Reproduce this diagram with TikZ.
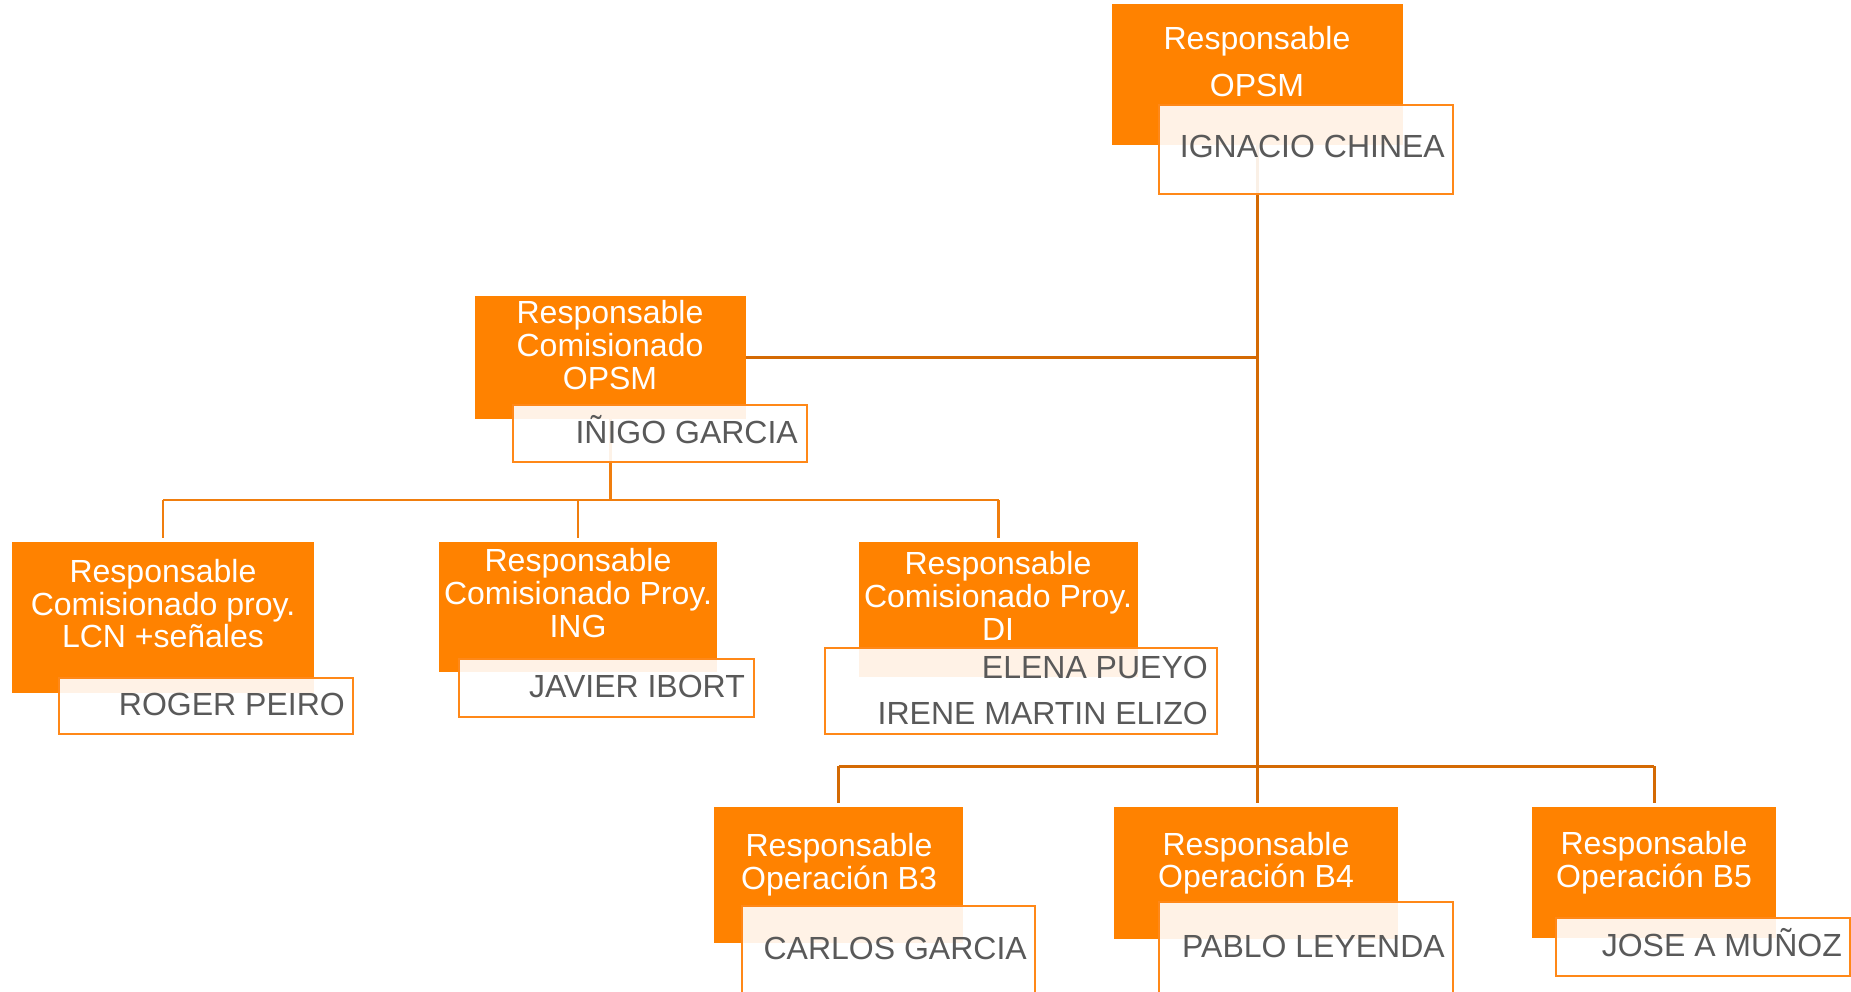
\documentclass[tikz,border=0pt]{standalone}
\usepackage{fontspec}
\setmainfont{Liberation Sans}
\definecolor{boxorange}{RGB}{255,130,0}
\definecolor{trunkc}{RGB}{212,106,4}
\definecolor{subc}{RGB}{240,126,14}
\definecolor{wborder}{RGB}{255,136,24}
\definecolor{namegray}{RGB}{89,89,89}
\pgfdeclarelayer{bg}
\pgfsetlayers{bg,main}
\tikzset{
  obox/.style={fill=boxorange, draw=none, inner sep=0pt, outer sep=0pt, anchor=north west},
  wbox/.style={fill=white, fill opacity=0.9, draw=wborder, line width=2.3pt, inner sep=0pt, outer sep=0pt, anchor=north west},
  roletext/.style={text=white, font=\fontsize{32}{33}\selectfont, inner sep=0pt, anchor=base},
  nametext/.style={text=namegray, font=\fontsize{32}{33}\selectfont, inner sep=0pt, anchor=base east},
  trunk/.style={draw=trunkc, line width=3pt},
  subline/.style={draw=subc, line width=2.6pt},
}
\newcommand{\obx}[5]{\node[obox, minimum width=#4pt-#2pt, minimum height=#5pt-#3pt] (#1) at (#2,#3) {};}
\newcommand{\wbx}[5]{\node[wbox, minimum width=#4pt-#2pt, minimum height=#5pt-#3pt] (#1) at (#2,#3) {};}
\begin{document}
\begin{tikzpicture}[x=1pt,y=-1pt]
\useasboundingbox (0,0) rectangle (1851,992);
\clip (0,0) rectangle (1851,992);
% orange boxes
\obx{otop}{1112}{4}{1403}{145}
\obx{oc}{475}{296}{746}{419}
\obx{or}{12}{542}{314}{693}
\obx{oj}{439}{542}{717}{672}
\obx{oe}{859}{542}{1138}{677}
\obx{ob3}{714}{807}{963}{943}
\obx{ob4}{1114}{807}{1398}{939}
\obx{ob5}{1532}{807}{1776}{938}
% white name boxes
\wbx{wtop}{1159}{105}{1453}{194}
\wbx{wc}{513}{405}{807}{462}
\wbx{wr}{59}{678}{353}{734}
\wbx{wj}{459}{659}{754}{717}
\wbx{we}{825}{648}{1217}{734}
\wbx{wb3}{742}{906}{1035}{1010}
\wbx{wb4}{1159}{902}{1453}{1010}
\wbx{wb5}{1556}{918}{1850}{976}
% role texts
\node[roletext] (ttop1) at (1257,50) {Responsable};
\node[roletext] (ttop2) at (1257,97) {OPSM};
\node[roletext] (tc1) at (610,323) {Responsable};
\node[roletext] (tc2) at (610,356) {Comisionado};
\node[roletext] (tc3) at (610,389) {OPSM};
\node[roletext] (tr1) at (163,582) {Responsable};
\node[roletext] (tr2) at (163,615) {Comisionado proy.};
\node[roletext] (tr3) at (163,647) {LCN +señales};
\node[roletext] (tj1) at (578,571) {Responsable};
\node[roletext] (tj2) at (578,604) {Comisionado Proy.};
\node[roletext] (tj3) at (578,637) {ING};
\node[roletext] (te1) at (998,574) {Responsable};
\node[roletext] (te2) at (998,607) {Comisionado Proy.};
\node[roletext] (te3) at (998,640) {DI};
\node[roletext] (tb31) at (839,856) {Responsable};
\node[roletext] (tb32) at (839,889) {Operación B3};
\node[roletext] (tb41) at (1256,855) {Responsable};
\node[roletext] (tb42) at (1256,887) {Operación B4};
\node[roletext] (tb51) at (1654,854) {Responsable};
\node[roletext] (tb52) at (1654,887) {Operación B5};
% name texts
\node[nametext] (ntop) at (1445,158) {IGNACIO CHINEA};
\node[nametext] (nc) at (798,443) {IÑIGO GARCIA};
\node[nametext] (nr) at (345,715) {ROGER PEIRO};
\node[nametext] (nj) at (745,697) {JAVIER IBORT};
\node[nametext] (ne1) at (1208,678) {ELENA PUEYO};
\node[nametext] (ne2) at (1208,724) {IRENE MARTIN ELIZO};
\node[nametext] (nb3) at (1027,959) {CARLOS GARCIA};
\node[nametext] (nb4) at (1445,957) {PABLO LEYENDA};
\node[nametext] (nb5) at (1842,956) {JOSE A MUÑOZ};
% connectors
\coordinate (busB) at (1257,766);
\coordinate (busA) at (610,500);
\begin{pgfonlayer}{bg}
\draw[trunk] (otop.south) -- (otop.south |- busB);
\draw[trunk] (otop.south |- oc.east) -- (oc.east);
\draw[trunk] (ob3.north |- busB) -- (ob5.north |- busB);
\draw[trunk, shorten >=4pt] (ob3.north |- busB) -- (ob3.north);
\draw[trunk, shorten >=4pt] (ob5.north |- busB) -- (ob5.north);
\draw[trunk, shorten >=4pt] (busB) -- (busB |- ob4.north);
\draw[subline] (oc.south) -- (oc.south |- busA);
\draw[subline] (or.north |- busA) -- (oe.north |- busA);
\draw[subline, shorten >=4pt] (or.north |- busA) -- (or.north);
\draw[subline, shorten >=4pt] (oj.north |- busA) -- (oj.north);
\draw[subline, shorten >=4pt] (oe.north |- busA) -- (oe.north);
\end{pgfonlayer}
\end{tikzpicture}
\end{document}
